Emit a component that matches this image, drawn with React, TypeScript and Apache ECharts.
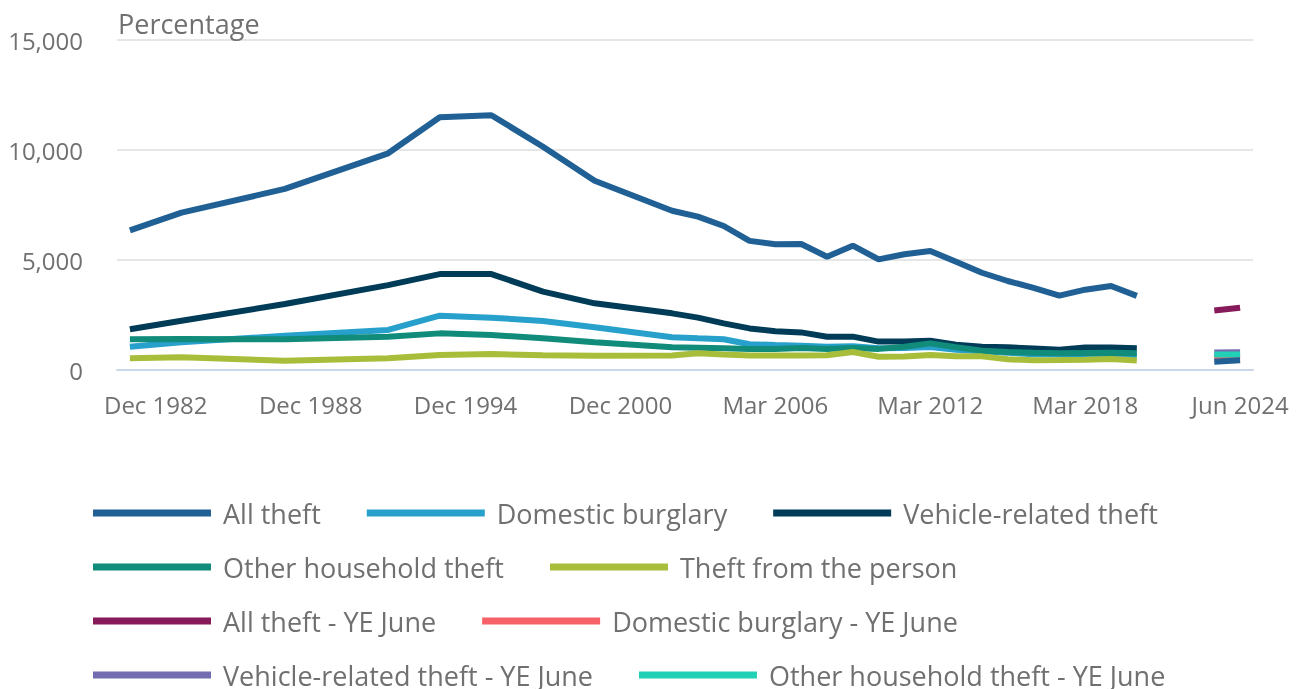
import React, { useEffect, useRef } from "react";
import * as echarts from "echarts";

const categories = [
  "Dec 1981", "Dec 1982", "Dec 1983", "Dec 1984", "Dec 1985", "Dec 1986", "Dec 1987", "Dec 1988",
  "Dec 1989", "Dec 1990", "Dec 1991", "Dec 1992", "Dec 1993", "Dec 1994", "Dec 1995", "Dec 1996",
  "Dec 1997", "Dec 1998", "Dec 1999", "Dec 2000", "Mar 2001", "Mar 2002", "Mar 2003", "Mar 2004",
  "Mar 2005", "Mar 2006", "Mar 2007", "Mar 2008", "Mar 2009", "Mar 2010", "Mar 2011", "Mar 2012",
  "Mar 2013", "Mar 2014", "Mar 2015", "Mar 2016", "Mar 2017", "Mar 2018", "Mar 2019", "Mar 2020",
  "Mar 2021", "Mar 2022", "Jun 2023", "Jun 2024",
];

const N = null;
const allTheft = [6350, N, 7150, N, N, N, 8230, N, N, N, 9850, N, 11490, N, 11580, N, 10150, N, 8600, N, N,
  7240, 6970, 6545, 5870, 5720, 5730, 5150, 5650, 5030, 5260, 5410, 4920, 4420, 4045, 3730, 3380, 3650, 3820, 3370, N, N, N, N];
const domesticBurglary = [1060, N, 1260, N, N, N, 1560, N, N, N, 1820, N, 2470, N, 2380, N, 2230, N, 1940, N, N,
  1490, 1440, 1395, 1170, 1136, 1105, 1060, 1080, 985, 1000, 1050, 920, 850, 780, 720, 700, 680, 700, 650, N, N, N, N];
const vehicleTheft = [1850, N, 2240, N, N, N, 3000, N, N, N, 3860, N, 4360, N, 4360, N, 3560, N, 3030, N, N,
  2575, 2380, 2120, 1890, 1760, 1710, 1515, 1515, 1290, 1300, 1330, 1150, 1060, 1030, 980, 920, 1020, 1020, 990, N, N, N, N];
const otherHousehold = [1395, N, 1410, N, N, N, 1395, N, N, N, 1515, N, 1665, N, 1590, N, 1440, N, 1260, N, N,
  1030, 1015, 985, 955, 955, 1000, 955, 1000, 960, 1060, 1210, 1030, 880, 820, 780, 760, 770, 780, 760, N, N, N, N];
const theftPerson = [530, N, 575, N, N, N, 425, N, N, N, 530, N, 680, N, 725, N, 665, N, 650, N, N,
  660, 760, 700, 660, 660, 660, 670, 820, 600, 610, 680, 630, 620, 490, 440, 450, 470, 500, 430, N, N, N, N];

const pad42 = (a: number, b: number) => [...Array(42).fill(N), a, b];
const allTheftYE = pad42(2700, 2830);
const domesticBurglaryYE = pad42(560, 560);
const vehicleTheftYE = pad42(800, 810);
const otherHouseholdYE = pad42(700, 710);
const theftPersonYE = pad42(380, 440);

const seriesNames = [
  "All theft", "Domestic burglary", "Vehicle-related theft", "Other household theft", "Theft from the person",
  "All theft - YE June", "Domestic burglary - YE June", "Vehicle-related theft - YE June",
  "Other household theft - YE June", "Theft from the person - YE June",
];
const seriesData = [allTheft, domesticBurglary, vehicleTheft, otherHousehold, theftPerson,
  allTheftYE, domesticBurglaryYE, vehicleTheftYE, otherHouseholdYE, theftPersonYE];
const colors = ["#206095", "#27a0cc", "#003c57", "#118c7b", "#a8bd3a", "#871a5b", "#f66068", "#746cb1", "#22d0b6", "#206095"];

const FONT = "'Open Sans', sans-serif";
const GREY = "#707070";

export default function App() {
  const ref = useRef<HTMLDivElement>(null);
  useEffect(() => {
    const chart = echarts.init(ref.current!, null, { renderer: "svg" });
    const showIdx = (i: number) => i % 6 === 1;
    chart.setOption({
      animation: false,
      color: colors,
      title: {
        text: "Percentage", left: 118, top: 10, padding: 0,
        textStyle: { fontSize: 27, fontWeight: "normal", color: GREY, fontFamily: FONT },
      },
      grid: { left: 117, right: 45, top: 40, bottom: 319, containLabel: false },
      legend: {
        left: 93, top: 499, width: 1150, padding: 0,
        icon: "rect", itemWidth: 118, itemHeight: 7, itemGap: 26,
        textStyle: { fontSize: 27, color: GREY, fontFamily: FONT, lineHeight: 28, padding: [0, 20, 0, 7] },
        data: seriesNames,
      },
      xAxis: {
        type: "category", data: categories, boundaryGap: true,
        axisLine: { lineStyle: { color: "#ccd6eb", width: 2 } },
        axisTick: { alignWithLabel: true, length: 20, interval: showIdx, lineStyle: { color: "#ccd6eb", width: 2 } },
        axisLabel: { interval: showIdx, margin: 22, fontSize: 24, color: GREY, fontFamily: FONT },
        splitLine: { show: false },
      },
      yAxis: {
        type: "value", min: 0, max: 15000, interval: 5000,
        axisLine: { show: false }, axisTick: { show: false },
        axisLabel: { margin: 34, fontSize: 24, color: GREY, fontFamily: FONT,
          formatter: (v: number) => v.toLocaleString("en-GB") },
        splitLine: { lineStyle: { color: "#e6e6e6", width: 2 } },
      },
      series: seriesNames.map((name, i) => ({
        name, type: "line", data: seriesData[i], showSymbol: false, symbol: "none",
        connectNulls: true, lineStyle: { width: 6, color: colors[i] }, itemStyle: { color: colors[i] },
      })),
    });
    return () => chart.dispose();
  }, []);
  return <div ref={ref} style={{ position: "fixed", left: 0, top: 0, width: 1298, height: 689 }} />;
}
